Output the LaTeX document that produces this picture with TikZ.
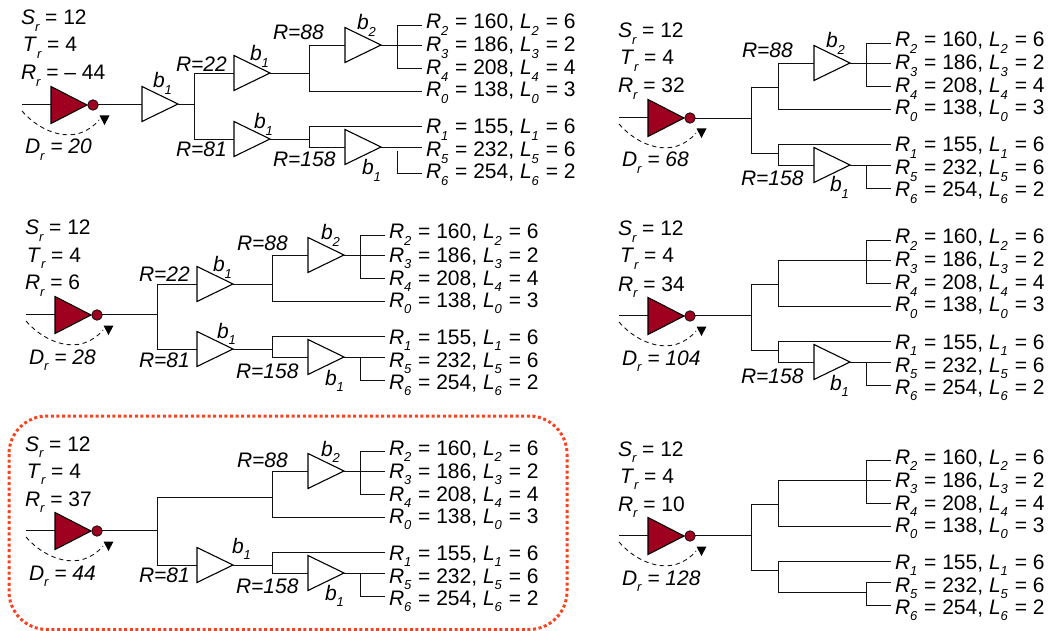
\documentclass[tikz,border=0pt]{standalone}
\usepackage{fontspec}
\setmainfont{Liberation Sans}
\usetikzlibrary{shapes.geometric}
\definecolor{maroon}{HTML}{A00020}
\definecolor{wire}{HTML}{111111}
\definecolor{halo}{HTML}{F9421F}
\tikzset{
  wireline/.style={draw=wire,line width=0.95pt},
  bufnode/.style={isosceles triangle,isosceles triangle stretches,shape border rotate=0,draw=black,line width=1.1pt,fill=white,
    minimum width=35pt,minimum height=36pt,inner sep=0pt,outer sep=0pt,anchor=lower side},
  invnode/.style={bufnode,fill=maroon,minimum width=37pt},
  bubble/.style={circle,draw=wire,line width=0.8pt,fill=maroon,minimum size=10.5pt,inner sep=0pt,outer sep=0pt},
  txt/.style={anchor=base west,inner sep=0pt,outer sep=0pt,font=\fontsize{21}{21}\selectfont,text=black},
  hinttip/.style={fill=black,draw=none}
}
\newcommand{\sbs}[1]{\raisebox{-6.5pt}{\fontsize{13}{13}\selectfont\itshape #1}}
% leaves, in the coordinates of the top-left panel
\newcommand{\leaf}[4]{% idx, pin y, baseline, text
  \coordinate (pin#1) at (422,#2);
  \node[txt] (leaf#1) at (426,#3) {#4};}
\newcommand{\lt}[3]{\textit{R}\sbs{#1}\kern1pt{} = #2, \textit{L}\sbs{#1}\kern1pt{} = #3}
\newcommand{\leaves}[1]{% #1 = y of the R6 pin
  \leaf{2}{25}{29}{\lt{2}{160}{6}}
  \leaf{3}{45}{52}{\lt{3}{186}{2}}
  \leaf{4}{68}{75}{\lt{4}{208}{4}}
  \leaf{0}{91}{97}{\lt{0}{138}{3}}
  \leaf{1}{126}{134}{\lt{1}{155}{6}}
  \leaf{5}{147}{157}{\lt{5}{232}{6}}
  \leaf{6}{#1}{179}{\lt{6}{254}{2}}}
% fan of the top three leaves, and the fan of R5/R6
\newcommand{\topfan}{%
  \coordinate (tvt) at (309,45);\coordinate (tvb) at (309,91);
  \coordinate (ft) at (397,25);\coordinate (fm) at (397,45);\coordinate (fb) at (397,68);
  \draw[wireline] (pin2) -- (ft) -- (fb) -- (pin4);
  \draw[wireline] (tvt) -- (tvb) -- (pin0);}
\newcommand{\topbuf}{%
  \node[bufnode] (bt) at (345,45) {};
  \draw[wireline] (tvt) -- (bt.lower side);
  \draw[wireline] (bt.apex) -- (pin3);}
\newcommand{\topwire}{\draw[wireline] (tvt) -- (pin3);}
\newcommand{\botbuf}[2]{% #1 fan top y, #2 fan bottom y
  \coordinate (lvt) at (309,126);\coordinate (lvb) at (309,147);
  \coordinate (gt) at (397,#1);\coordinate (gb) at (397,#2);
  \draw[wireline] (pin1) -- (lvt) -- (lvb);
  \node[bufnode] (bb) at (345,147) {};
  \draw[wireline] (lvb) -- (bb.lower side);
  \draw[wireline] (bb.apex) -- (pin5);
  \draw[wireline] (gt) -- (gb) -- (pin6);}
\newcommand{\inverter}[4]{% x, y, Rr, Dr
  \begin{scope}[shift={(#1,#2)}]
    \node[txt] (ts) at (-30,-80) {\textit{S}\sbs{r} = 12};
    \node[txt] (tt) at (-28,-53) {\textit{T}\sbs{r} = 4};
    \node[txt] (tr) at (-30,-25) {\textit{R}\sbs{r} = #3};
    \node[txt] (td) at (-26,49) {\textit{D}\sbs{r} \textit{= #4}};
    \node[invnode] (inv) at (0,0) {};
    \node[bubble] (bub) at (42,0) {};
    \coordinate (in) at (-29,-1);
    \coordinate (hs) at (-29,6);\coordinate (he) at (48,15);
    \draw[wireline] (in) -- (in -| inv.lower side);
    \draw[dash pattern=on 4.5pt off 3.5pt,line width=0.9pt,draw=wire] (hs) .. controls (-10,28) and (25,42) .. (he);
    \fill[hinttip] (48.5,10.5) -- (58.5,10.5) -- (53.5,20) -- cycle;
  \end{scope}}
\newcommand{\blab}[4]{\node[txt] (#1) at (#2,#3) {\textit{b}\sbs{#4}};}
\newcommand{\rlab}[4]{\node[txt] (#1) at (#2,#3) {\textit{R=#4}};}
\begin{document}
\begin{tikzpicture}[x=1pt,y=-1pt]
\useasboundingbox (0,0) rectangle (1058,631);
% highlight
\draw[halo,line width=3pt,dash pattern=on 3pt off 2.6pt,rounded corners=38pt] (9,416) rectangle (567,629.5);

% ---------- panel A
\begin{scope}[name prefix=a-]
\inverter{51}{105}{– 44}{20}
\node[bufnode] (b0) at (142,104) {};
\coordinate (fk) at (194,104);\coordinate (fkt) at (194,73);\coordinate (fkb) at (194,139);
\node[bufnode] (b1) at (234,73) {};
\node[bufnode] (b2) at (234,139) {};
\draw[wireline] (bub.east |- 0,104) -- (b0.lower side);
\draw[wireline] (b0.apex) -- (fk);
\draw[wireline] (b1.lower side) -- (fkt) -- (fkb) -- (b2.lower side);
\begin{scope}
\leaves{173}\topfan\topbuf\botbuf{151}{173}
\coordinate (ui) at (309,73);\coordinate (li) at (309,139);
\draw[wireline] (b1.apex) -- (ui);
\draw[wireline] (b2.apex) -- (li);
\end{scope}
\rlab{r1}{176}{72}{22}\rlab{r2}{176}{157}{81}\rlab{r3}{273}{40}{88}\rlab{r4}{273}{167}{158}
\blab{l0}{153}{88}{1}\blab{l1}{250}{61}{1}\blab{l2}{254}{129}{1}\blab{l3}{357}{30}{2}\blab{l4}{362}{175}{1}
\end{scope}

% ---------- panel C
\begin{scope}[name prefix=c-]
\inverter{55}{315}{6}{28}
\coordinate (fk) at (157.5,314);\coordinate (fkt) at (157.5,284);\coordinate (fkb) at (157.5,349);
\node[bufnode] (b1) at (197,284) {};
\node[bufnode] (b2) at (197,349) {};
\draw[wireline] (bub.east |- 0,314) -- (fk);
\draw[wireline] (b1.lower side) -- (fkt) -- (fkb) -- (b2.lower side);
\begin{scope}[shift={(-37,210)}]
\leaves{170}\topfan\topbuf\botbuf{147}{170}
\coordinate (ui) at (309,74);\coordinate (li) at (309,139);
\draw[wireline] (b1.apex) -- (ui);
\draw[wireline] (b2.apex) -- (li);
\end{scope}
\rlab{r1}{139}{282}{22}\rlab{r2}{139}{367}{81}\rlab{r3}{237}{251}{88}\rlab{r4}{236}{378}{158}
\blab{l1}{213}{272}{1}\blab{l2}{217}{338}{1}\blab{l3}{321}{240}{2}\blab{l4}{325}{385}{1}
\end{scope}

% ---------- panel E
\begin{scope}[name prefix=e-]
\inverter{55}{531}{37}{44}
\coordinate (fk) at (157.5,530);\coordinate (fkt) at (157.5,497);\coordinate (fkb) at (157.5,565);
\node[bufnode] (b2) at (197,565) {};
\begin{scope}[shift={(-37,426)}]
\leaves{170}\topfan\topbuf\botbuf{147}{170}
\coordinate (ui) at (309,71);\coordinate (li) at (309,139);
\end{scope}
\draw[wireline] (bub.east |- 0,530) -- (fk);
\draw[wireline] (ui) -- (fkt) -- (fkb) -- (b2.lower side);
\draw[wireline] (b2.apex) -- (li);
\rlab{r2}{139}{582}{81}\rlab{r3}{237}{467}{88}\rlab{r4}{236}{593}{158}
\blab{l1}{232}{553}{1}\blab{l3}{321}{456}{2}\blab{l4}{325}{600}{1}
\end{scope}

% ---------- panel B
\begin{scope}[name prefix=b-]
\inverter{648}{118}{32}{68}
\coordinate (fk) at (751,118);
\begin{scope}[shift={(469,18)}]
\leaves{170}\topfan\topbuf\botbuf{147}{170}
\coordinate (ui) at (309,69);\coordinate (li) at (309,135);
\coordinate (fkt) at (282,69);\coordinate (fkb) at (282,135);
\end{scope}
\draw[wireline] (bub.east |- 0,118) -- (fk);
\draw[wireline] (ui) -- (fkt) -- (fkb) -- (li);
\rlab{r3}{742}{58}{88}\rlab{r4}{741}{186}{158}
\blab{l3}{826}{48}{2}\blab{l4}{830}{192}{1}
\end{scope}

% ---------- panel D
\begin{scope}[name prefix=d-]
\inverter{648}{316}{34}{104}
\coordinate (fk) at (751,315);
\begin{scope}[shift={(469,215)}]
\leaves{170}\topfan\topwire\botbuf{147}{170}
\coordinate (ui) at (309,69);\coordinate (li) at (309,135);
\coordinate (fkt) at (282,69);\coordinate (fkb) at (282,135);
\end{scope}
\draw[wireline] (bub.east |- 0,315) -- (fk);
\draw[wireline] (ui) -- (fkt) -- (fkb) -- (li);
\rlab{r4}{741}{383}{158}
\blab{l4}{830}{390}{1}
\end{scope}

% ---------- panel F
\begin{scope}[name prefix=f-]
\inverter{648}{536}{10}{128}
\coordinate (fk) at (751,535);
\begin{scope}[shift={(469,435)}]
\coordinate (lvt) at (309,126);\coordinate (lvb) at (309,157);
\coordinate (gt) at (397,147);\coordinate (gm) at (397,157);\coordinate (gb) at (397,170);
\leaves{170}\topfan\topwire
\draw[wireline] (pin1) -- (lvt) -- (lvb) -- (gm);
\draw[wireline] (pin5) -- (gt) -- (gb) -- (pin6);
\coordinate (ui) at (309,69);\coordinate (li) at (309,135);
\coordinate (fkt) at (282,69);\coordinate (fkb) at (282,135);
\end{scope}
\draw[wireline] (bub.east |- 0,535) -- (fk);
\draw[wireline] (ui) -- (fkt) -- (fkb) -- (li);
\end{scope}
\end{tikzpicture}
\end{document}
